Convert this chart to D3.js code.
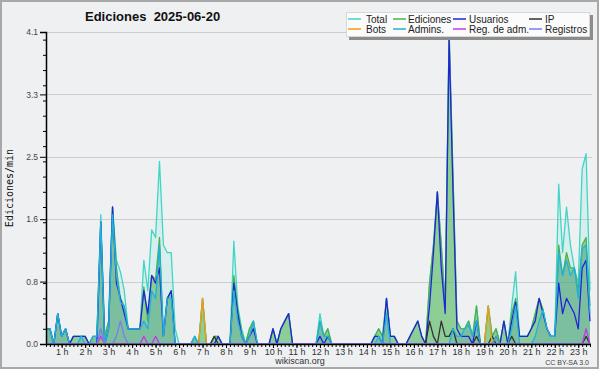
<!DOCTYPE html>
<html>
<head>
<meta charset="utf-8">
<title>Ediciones 2025-06-20</title>
<style>
  body { margin: 0; background: #ffffff; }
  svg { display: block; }
  text { font-family: "Liberation Sans", Arial, sans-serif; }
</style>
</head>
<body>
<svg width="600" height="370"></svg>
<script src="https://d3js.org/d3.v7.min.js"></script>
<script>

// time slots: every 10 minutes, first slot 0:20, last 23:30 (140 slots)
var firstSlot = 20, slotStep = 10;

var hourLabels = ["1 h","2 h","3 h","4 h","5 h","6 h","7 h","8 h","9 h","10 h","11 h","12 h",
                  "13 h","14 h","15 h","16 h","17 h","18 h","19 h","20 h","21 h","22 h","23 h"];

var yTicks = [0, 0.82, 1.64, 2.46, 3.28, 4.1];

// edits per minute, one row per hour
var total = [
  0.2, 0.2, 0, 0.4,
  0.1, 0.2, 0, 0.1, 0.1, 0.1,
  0.1, 0, 0.1, 0.1, 1.7, 0.1,
  0.3, 1.8, 1.1, 0.95, 0.7, 0.2,
  0.2, 0.2, 0.2, 1.1, 0.7, 1.5,
  1.4, 2.4, 1.3, 1.2, 1.2, 0.2,
  0, 0, 0, 0, 0.1, 0,
  0.6, 0, 0, 0.1, 0.1, 0,
  0, 0, 1.35, 0.5, 0.2, 0,
  0.2, 0.3, 0, 0, 0, 0,
  0.2, 0, 0.2, 0.3, 0.4, 0,
  0, 0, 0, 0, 0, 0,
  0.4, 0.1, 0.2, 0, 0, 0,
  0, 0, 0, 0, 0, 0,
  0, 0, 0.1, 0.2, 0.1, 0.6,
  0.1, 0.1, 0, 0, 0, 0.1,
  0.2, 0.3, 0.1, 0, 0.8, 1.3,
  2.0, 1.3, 0.5, 4.1, 2.2, 0.3,
  0.2, 0.2, 0.3, 0.1, 0.5, 0,
  0, 0.5, 0.1, 0.2, 0, 0.3,
  0, 0.5, 0.95, 0.1, 0.1, 0.1,
  0.2, 0.4, 0.6, 0.45, 0.2, 0.1,
  0.1, 2.1, 1.2, 1.8, 1.3, 1.0,
  0.8, 2.3, 2.5, 0.7
];

var ediciones = [
  0.2, 0.2, 0, 0.4,
  0.1, 0.2, 0, 0.1, 0.1, 0.1,
  0.1, 0, 0.1, 0.1, 1.6, 0.1,
  0.3, 1.8, 1.0, 0.6, 0.5, 0.2,
  0.2, 0.2, 0.2, 0.75, 0.3, 0.9,
  0.85, 1.4, 0.1, 0.6, 0.7, 0,
  0, 0, 0, 0, 0.1, 0,
  0.6, 0, 0, 0.1, 0.1, 0,
  0, 0, 0.9, 0.45, 0.15, 0,
  0.2, 0.3, 0, 0, 0, 0,
  0.2, 0, 0.2, 0.3, 0.4, 0,
  0, 0, 0, 0, 0, 0,
  0.3, 0.1, 0.2, 0, 0, 0,
  0, 0, 0, 0, 0, 0,
  0, 0, 0.1, 0.2, 0.1, 0.6,
  0.1, 0.1, 0, 0, 0, 0.1,
  0.2, 0.3, 0.1, 0, 0.8, 1.3,
  2.0, 1.3, 0.5, 4.1, 2.2, 0.3,
  0.2, 0.2, 0.3, 0.1, 0.5, 0,
  0, 0.5, 0.1, 0.2, 0, 0.3,
  0, 0.4, 0.6, 0.1, 0.1, 0.1,
  0.2, 0.4, 0.6, 0.45, 0.2, 0.1,
  0.1, 1.3, 0.9, 1.2, 1.0, 1.0,
  0.7, 1.3, 1.4, 0.5
];

var usuarios = [
  0.2, 0.2, 0, 0.4,
  0.1, 0.2, 0, 0.1, 0.1, 0.1,
  0.1, 0, 0, 0, 1.6, 0,
  0.2, 1.8, 0.8, 0.6, 0.4, 0.2,
  0.2, 0.2, 0.2, 0.7, 0.4, 0.9,
  0.8, 1.0, 0.1, 0.6, 0.7, 0,
  0, 0, 0, 0, 0, 0,
  0, 0, 0, 0, 0.1, 0,
  0, 0, 0.8, 0.4, 0.1, 0,
  0.1, 0.2, 0, 0, 0, 0,
  0.2, 0, 0.2, 0.3, 0.4, 0,
  0, 0, 0, 0, 0, 0,
  0.1, 0, 0.1, 0, 0, 0,
  0, 0, 0, 0, 0, 0,
  0, 0, 0.1, 0.1, 0, 0.6,
  0.1, 0.1, 0, 0, 0, 0.1,
  0.2, 0.3, 0.1, 0, 0.5, 1.2,
  2.0, 1.0, 0.4, 4.0, 2.0, 0.2,
  0.1, 0.1, 0.1, 0, 0.3, 0,
  0, 0, 0, 0.1, 0, 0.3,
  0, 0.3, 0.55, 0.1, 0.1, 0.1,
  0.2, 0.3, 0.6, 0.4, 0.2, 0.1,
  0.1, 0.8, 0.4, 0.6, 0.5, 0.4,
  0.2, 1.0, 1.1, 0.3
];

var ip = [
  0, 0, 0, 0,
  0, 0, 0, 0, 0, 0,
  0, 0, 0, 0, 0, 0,
  0, 0, 0, 0, 0, 0,
  0, 0, 0, 0, 0, 0,
  0, 0, 0, 0, 0, 0,
  0, 0, 0, 0, 0, 0,
  0, 0, 0, 0.1, 0, 0,
  0, 0, 0, 0, 0, 0,
  0, 0, 0, 0, 0, 0,
  0, 0, 0, 0, 0, 0,
  0, 0, 0, 0, 0, 0,
  0, 0, 0, 0, 0, 0,
  0, 0, 0, 0, 0, 0,
  0, 0, 0, 0, 0, 0,
  0, 0, 0, 0, 0, 0,
  0, 0, 0, 0, 0.3, 0.1,
  0, 0.3, 0.1, 0.1, 0.2, 0,
  0, 0, 0, 0, 0.1, 0,
  0, 0, 0.1, 0, 0, 0,
  0, 0.1, 0, 0, 0, 0,
  0, 0, 0, 0, 0, 0,
  0, 0, 0, 0, 0, 0,
  0, 0, 0.1, 0
];

var bots = [
  0, 0, 0, 0,
  0, 0, 0, 0, 0, 0,
  0, 0, 0, 0, 0, 0,
  0, 0, 0, 0, 0, 0,
  0, 0, 0, 0, 0, 0,
  0, 0, 0, 0, 0, 0,
  0, 0, 0, 0, 0, 0,
  0.6, 0, 0, 0, 0, 0,
  0, 0, 0, 0, 0, 0,
  0, 0, 0, 0, 0, 0,
  0, 0, 0, 0, 0, 0,
  0, 0, 0, 0, 0, 0,
  0, 0, 0, 0, 0, 0,
  0, 0, 0, 0, 0, 0,
  0, 0, 0, 0, 0, 0,
  0, 0, 0, 0, 0, 0,
  0, 0, 0, 0, 0, 0,
  0, 0, 0, 0, 0, 0,
  0, 0, 0, 0, 0, 0,
  0, 0.5, 0, 0.1, 0, 0,
  0, 0, 0, 0, 0, 0,
  0, 0, 0, 0, 0, 0,
  0, 0, 0, 0, 0, 0,
  0, 0, 0, 0
];

var admins = [
  0.2, 0.2, 0, 0.4,
  0.1, 0.2, 0, 0, 0, 0.1,
  0, 0, 0.1, 0.1, 1.6, 0,
  0.2, 1.7, 0.9, 0.55, 0.5, 0.2,
  0.2, 0.2, 0.2, 0.3, 0.2, 0.7,
  0.6, 1.3, 0.1, 0.6, 0.6, 0,
  0, 0, 0, 0, 0.1, 0,
  0, 0, 0, 0, 0, 0,
  0, 0, 0.7, 0.3, 0.1, 0,
  0.1, 0.3, 0, 0, 0, 0,
  0, 0, 0, 0, 0, 0,
  0, 0, 0, 0, 0, 0,
  0.3, 0.1, 0.1, 0, 0, 0,
  0, 0, 0, 0, 0, 0,
  0, 0, 0, 0.1, 0, 0.4,
  0, 0, 0, 0, 0, 0,
  0, 0, 0, 0, 0, 0,
  0, 0, 0, 0, 0.2, 0.1,
  0.1, 0.2, 0.25, 0.1, 0.3, 0,
  0, 0, 0, 0.1, 0, 0,
  0, 0.2, 0.5, 0, 0, 0,
  0, 0.1, 0.3, 0.45, 0.2, 0.1,
  0.1, 1.2, 0.9, 1.1, 0.9, 1.0,
  0.6, 1.25, 1.3, 0.4
];

var regAdm = [
  0, 0, 0, 0,
  0, 0, 0, 0, 0, 0,
  0, 0, 0, 0, 0.1, 0,
  0, 0, 0, 0, 0, 0,
  0, 0, 0, 0.1, 0, 0,
  0.1, 0, 0, 0, 0, 0,
  0, 0, 0, 0, 0, 0,
  0, 0, 0, 0, 0, 0,
  0, 0, 0, 0, 0, 0,
  0, 0, 0, 0, 0, 0,
  0, 0, 0, 0, 0, 0,
  0, 0, 0, 0, 0, 0,
  0, 0, 0, 0, 0, 0,
  0, 0, 0, 0, 0, 0,
  0, 0, 0, 0, 0, 0,
  0, 0, 0, 0, 0, 0,
  0, 0, 0, 0, 0, 0,
  0, 0, 0, 0, 0, 0,
  0, 0, 0, 0, 0, 0,
  0, 0, 0, 0, 0, 0,
  0, 0, 0, 0, 0, 0,
  0, 0, 0, 0, 0, 0,
  0, 0, 0, 0, 0, 0,
  0, 0, 0.2, 0
];

var registros = [
  0, 0, 0, 0,
  0, 0, 0, 0, 0, 0,
  0, 0, 0, 0, 0.2, 0,
  0, 0, 0.1, 0.3, 0.1, 0,
  0, 0, 0, 0, 0, 0,
  0, 0, 0, 0, 0, 0,
  0, 0, 0, 0, 0, 0,
  0, 0, 0, 0, 0, 0,
  0, 0, 0, 0, 0, 0,
  0, 0, 0, 0, 0, 0,
  0, 0, 0, 0, 0, 0,
  0, 0, 0, 0, 0, 0,
  0, 0, 0, 0, 0, 0,
  0, 0, 0, 0, 0, 0,
  0, 0, 0, 0, 0, 0,
  0, 0, 0, 0, 0, 0,
  0, 0, 0, 0, 0, 0,
  0, 0, 0, 0, 0, 0,
  0, 0, 0, 0, 0, 0,
  0, 0, 0, 0, 0, 0,
  0, 0, 0, 0, 0, 0,
  0, 0, 0, 0, 0, 0,
  0, 0, 0, 0, 0, 0,
  0, 0, 0, 0
];

var series = [
  {name: "Total",        data: total,     color: "#3fd6c6", fill: "rgba(64,224,208,0.13)"},
  {name: "Ediciones",    data: ediciones, color: "#4cb050", fill: "rgba(80,180,80,0.55)"},
  {name: "Usuarios",     data: usuarios,  color: "#2323d8"},
  {name: "IP",           data: ip,        color: "#333333"},
  {name: "Bots",         data: bots,      color: "#f39c12"},
  {name: "Admins.",      data: admins,    color: "#1fb1e0", fill: "rgba(30,110,200,0.16)"},
  {name: "Reg. de adm.", data: regAdm,    color: "#c03ce0"},
  {name: "Registros",    data: registros, color: "#7b7bef"}
];

var svg = d3.select("svg");
// plot box (note: "top" is reserved on window, so use other names)
var pLeft = 46, pRight = 590, pTop = 32, pBottom = 344;

var slots = total.map(function(d, i) { return firstSlot + i * slotStep; });

var x = d3.scaleLinear().domain([slots[0], slots[slots.length - 1]]).range([pLeft, pRight]);
var y = d3.scaleLinear().domain([0, 4.1]).range([pBottom, pTop]);

// background + frame
svg.append("rect").attr("x", 1).attr("y", 1).attr("width", 597).attr("height", 367)
  .attr("fill", "#eff0f2").attr("stroke", "#a8a8a8").attr("stroke-width", 2);

// grid
svg.append("g").selectAll("line").data(yTicks.slice(1)).enter().append("line")
  .attr("x1", pLeft).attr("x2", pRight + 2)
  .attr("y1", function(d) { return Math.round(y(d)) + 0.5; })
  .attr("y2", function(d) { return Math.round(y(d)) + 0.5; })
  .attr("stroke", "#cdcdcd");

var area = function(s) {
  return d3.area()
    .x(function(d, i) { return x(slots[i]); })
    .y0(pBottom)
    .y1(function(d) { return y(d); })(s.data);
};
var line = function(s) {
  return d3.line()
    .x(function(d, i) { return x(slots[i]); })
    .y(function(d) { return y(d); })(s.data);
};

// fills first, then lines
svg.append("g").selectAll("path").data(series.filter(function(s) { return s.fill; }))
  .enter().append("path")
  .attr("d", area).attr("fill", function(s) { return s.fill; });

svg.append("g").selectAll("path").data(series).enter().append("path")
  .attr("d", line).attr("fill", "none")
  .attr("stroke", function(s) { return s.color; })
  .attr("stroke-width", 1.3).attr("stroke-linejoin", "round");

// y axis
var yAxis = svg.append("g").attr("transform", "translate(" + pLeft + ",0)")
  .call(d3.axisLeft(y).tickValues(yTicks).tickFormat(d3.format(".1f")).tickSize(6).tickPadding(2));
svg.append("g").attr("transform", "translate(" + pLeft + ",0)")
  .call(d3.axisLeft(y).tickValues(d3.range(0.2, 4.1, 0.2)).tickFormat("").tickSize(3))
  .select(".domain").remove();
yAxis.selectAll("text").attr("font-size", 8.5).attr("fill", "#444")
  .attr("font-family", "'Liberation Sans', Arial, sans-serif");

// x axis: 10-minute ticks, hour labels
svg.append("g").attr("transform", "translate(0," + pBottom + ")")
  .call(d3.axisBottom(x).tickValues(slots).tickFormat("").tickSize(3).tickSizeOuter(0));
var hourAxis = svg.append("g").attr("transform", "translate(0," + pBottom + ")")
  .call(d3.axisBottom(x).tickValues(hourLabels.map(function(d, i) { return (i + 1) * 60; }))
    .tickFormat(function(d, i) { return hourLabels[i]; }).tickSize(4).tickPadding(1));
hourAxis.select(".domain").remove();
hourAxis.selectAll("text").attr("font-size", 9).attr("fill", "#333")
  .attr("font-family", "'Liberation Sans', Arial, sans-serif");
svg.selectAll(".domain").attr("stroke-width", 1.5);

// titles
svg.append("text").attr("x", 85).attr("y", 21).attr("font-size", 13).attr("font-weight", "bold")
  .attr("fill", "#111").attr("xml:space", "preserve").text("Ediciones  2025-06-20");

svg.append("text").attr("transform", "translate(13,188) rotate(-90)")
  .attr("text-anchor", "middle").attr("font-size", 10)
  .style("font-family", "'DejaVu Sans Mono', monospace").attr("fill", "#111")
  .text("Ediciones/min");

svg.append("text").attr("x", 300).attr("y", 364).attr("text-anchor", "middle")
  .attr("font-size", 9).attr("fill", "#333").text("wikiscan.org");
svg.append("text").attr("x", 589).attr("y", 365).attr("text-anchor", "end")
  .attr("font-size", 7).attr("fill", "#444").text("CC BY-SA 3.0");

// legend
var lg = svg.append("g");
lg.append("rect").attr("x", 349).attr("y", 15).attr("width", 244).attr("height", 25).attr("fill", "#8c8c8c");
lg.append("rect").attr("x", 346.5).attr("y", 12.5).attr("width", 243).attr("height", 24)
  .attr("fill", "#fbfbfb").attr("stroke", "#d8d8d8");

var colLine = [348, 393, 453, 529], colText = [366, 408, 469, 545];
var item = lg.selectAll("g.item").data(series).enter().append("g").attr("class", "item");
item.append("line")
  .attr("x1", function(d, i) { return colLine[i % 4]; })
  .attr("x2", function(d, i) { return colLine[i % 4] + 13; })
  .attr("y1", function(d, i) { return 19 + Math.floor(i / 4) * 10; })
  .attr("y2", function(d, i) { return 19 + Math.floor(i / 4) * 10; })
  .attr("stroke", function(d) { return d.color; }).attr("stroke-width", 1.5);
item.append("text")
  .attr("x", function(d, i) { return colText[i % 4]; })
  .attr("y", function(d, i) { return 23 + Math.floor(i / 4) * 10; })
  .attr("font-size", 10).attr("fill", "#222")
  .text(function(d) { return d.name; });

</script>
</body>
</html>
